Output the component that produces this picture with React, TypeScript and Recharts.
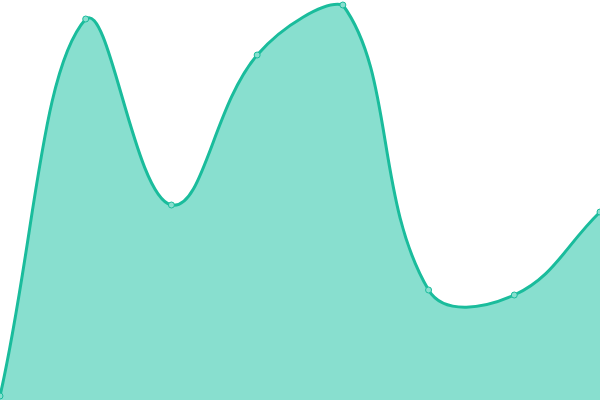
import { Area, AreaChart, XAxis, YAxis } from "recharts";

// values (y axis runs 0..400, no visible axes)
const labels = ["A", "B", "C", "D", "E", "F", "G", "H"];
const values = [4, 381, 195, 345, 395, 110, 105, 188];

const data = labels.map((label, i) => ({ label, value: values[i] }));

const WIDTH = 600;
const HEIGHT = 400;
const TENSION = 0.4;

// cardinal-ish spline with control points kept inside the plot box
function splineCurve(context: any) {
  let line = NaN;
  let pts: [number, number][] = [];
  const clampX = (v: number) => Math.max(0, Math.min(WIDTH, v));
  const clampY = (v: number) => Math.max(0, Math.min(HEIGHT, v));

  return {
    areaStart() {
      line = 0;
    },
    areaEnd() {
      line = NaN;
    },
    lineStart() {
      pts = [];
    },
    point(x: number, y: number) {
      pts.push([+x, +y]);
    },
    lineEnd() {
      const n = pts.length;
      if (n) {
        if (line) context.lineTo(pts[0][0], pts[0][1]);
        else context.moveTo(pts[0][0], pts[0][1]);

        const ctrl = pts.map((cur, i) => {
          const prev = pts[i - 1] || cur;
          const next = pts[i + 1] || cur;
          const d01 = Math.hypot(cur[0] - prev[0], cur[1] - prev[1]);
          const d12 = Math.hypot(next[0] - cur[0], next[1] - cur[1]);
          const sum = d01 + d12 || 1;
          const fa = (TENSION * d01) / sum;
          const fb = (TENSION * d12) / sum;
          const dx = next[0] - prev[0];
          const dy = next[1] - prev[1];
          return {
            in: [clampX(cur[0] - fa * dx), clampY(cur[1] - fa * dy)],
            out: [clampX(cur[0] + fb * dx), clampY(cur[1] + fb * dy)],
          };
        });

        for (let i = 1; i < n; i++) {
          context.bezierCurveTo(
            ctrl[i - 1].out[0],
            ctrl[i - 1].out[1],
            ctrl[i].in[0],
            ctrl[i].in[1],
            pts[i][0],
            pts[i][1]
          );
        }
      }
      if (line || (line !== 0 && n === 1)) context.closePath();
      line = 1 - line;
    },
  };
}

export default function App() {
  return (
    <div style={{ position: "absolute", left: 0, top: 0, width: WIDTH, height: HEIGHT }}>
      <AreaChart
        width={WIDTH}
        height={HEIGHT}
        data={data}
        margin={{ top: 0, right: 0, left: 0, bottom: 0 }}
      >
        <XAxis dataKey="label" hide />
        <YAxis hide domain={[0, 400]} />
        <Area
          type={splineCurve as any}
          dataKey="value"
          stroke="#1abc9c"
          strokeWidth={3}
          fill="#88dfcf"
          fillOpacity={1}
          dot={{ r: 3, fill: "#88dfcf", stroke: "#1abc9c", strokeWidth: 1, fillOpacity: 1 }}
          activeDot={false}
          isAnimationActive={false}
        />
      </AreaChart>
    </div>
  );
}
